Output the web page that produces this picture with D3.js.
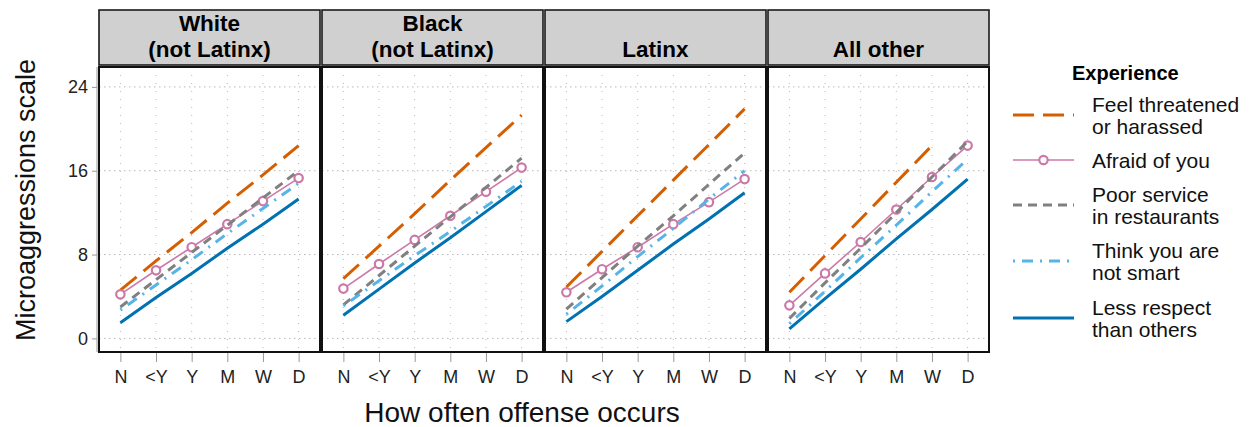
<!DOCTYPE html>
<html>
<head>
<meta charset="utf-8">
<script src="https://cdn.jsdelivr.net/npm/d3@7"></script>
<style>
  body { margin: 0; background: #fff; }
  svg { display: block; font-family: "Liberation Sans", Arial, sans-serif; }
</style>
</head>
<body>
<svg id="chart" width="1251" height="427"></svg>
<script>
var categories = [ "N", "<Y", "Y", "M", "W", "D" ];
var groups = [ [ "White", "(not Latinx)" ], [ "Black", "(not Latinx)" ], [ "Latinx" ], [ "All other" ] ];
var yTicks = [ 0, 8, 16, 24 ];
var experiences = [ "Feel threatened or harassed", "Afraid of you", "Poor service in restaurants", "Think you are not smart", "Less respect than others" ];
var legendLabels = [
    [ "Feel threatened", "or harassed" ],
    [ "Afraid of you" ],
    [ "Poor service", "in restaurants" ],
    [ "Think you are", "not smart" ],
    [ "Less respect", "than others" ]
];

// one array per experience, one row per group (White, Black, Latinx, All other)
var threatened = [
    [ 4.6, 7.4, 10.1, 12.9, 15.6, 18.4 ],
    [ 5.7, 8.8, 11.9, 15.1, 18.2, 21.3 ],
    [ 4.9, 8.3, 11.7, 15.1, 18.5, 21.9 ],
    [ 4.4, 7.9, 11.4, 14.9, 18.4, null ]
];
var afraid = [
    [ 4.2, 6.5, 8.7, 10.9, 13.1, 15.3 ],
    [ 4.75, 7.1, 9.4, 11.7, 14.0, 16.3 ],
    [ 4.4, 6.6, 8.7, 10.9, 13.0, 15.2 ],
    [ 3.15, 6.2, 9.2, 12.3, 15.4, 18.4 ]
];
var poorService = [
    [ 3.0, 5.6, 8.2, 10.8, 13.4, 16.0 ],
    [ 3.2, 6.0, 8.8, 11.6, 14.4, 17.2 ],
    [ 2.8, 5.8, 8.8, 11.7, 14.7, 17.7 ],
    [ 1.9, 5.3, 8.6, 12.0, 15.4, 18.8 ]
];
var notSmart = [
    [ 2.7, 5.1, 7.5, 10.0, 12.4, 14.8 ],
    [ 3.1, 5.5, 7.9, 10.2, 12.6, 15.0 ],
    [ 2.3, 5.0, 7.8, 10.5, 13.3, 16.0 ],
    [ 1.4, 4.5, 7.7, 10.8, 14.0, 17.1 ]
];
var lessRespect = [
    [ 1.5, 3.9, 6.2, 8.6, 10.9, 13.3 ],
    [ 2.2, 4.7, 7.2, 9.6, 12.1, 14.6 ],
    [ 1.6, 4.0, 6.5, 9.0, 11.4, 13.9 ],
    [ 0.9, 3.8, 6.6, 9.5, 12.3, 15.2 ]
];

(function () {
    var svg = d3.select( "#chart" );
    var seriesData = [ threatened, afraid, poorService, notSmart, lessRespect ];

    var styles = [
        { color: "#D55E00", width: 3, dash: "21,9" },
        { color: "#CC79A7", width: 1.6, dash: null, points: true },
        { color: "#808080", width: 3, dash: "9,6" },
        { color: "#56B4E9", width: 3, dash: "2,7,11,7" },
        { color: "#0072B2", width: 3, dash: null }
    ];

    var panelLeft = 99, panelWidth = 221, panelStep = 223;
    var stripTop = 10, stripBottom = 65, panelTop = 67, panelBottom = 352;

    var x = d3.scalePoint().domain( categories ).range( [ 0, panelWidth ] ).padding( 0.6 );
    var y = d3.scaleLinear().domain( [ -1.3, 25.9 ] ).range( [ panelBottom, panelTop ] );

    // left axis (shared)
    var yAxis = svg.append( "g" )
        .attr( "transform", "translate(" + ( panelLeft - 2 ) + ",0)" )
        .call( d3.axisLeft( y ).tickValues( yTicks ).tickSize( 5 ).tickPadding( 4 ) );
    yAxis.select( ".domain" ).attr( "d", "M0," + panelTop + "V" + panelBottom ).attr( "stroke", "#999" );
    yAxis.selectAll( ".tick line" ).attr( "stroke", "#999" );
    yAxis.selectAll( ".tick text" ).attr( "font-size", 18 ).attr( "fill", "#222" )
        .attr( "font-family", "Liberation Sans, Arial, sans-serif" );

    var line = d3.line()
        .defined( function ( d ) { return d != null; } )
        .x( function ( d, i ) { return x( categories[ i ] ); } )
        .y( function ( d ) { return y( d ); } );

    groups.forEach( function ( group, gi ) {
        var left = panelLeft + gi * panelStep;
        var g = svg.append( "g" ).attr( "transform", "translate(" + left + ",0)" );

        // strip
        g.append( "rect" )
            .attr( "x", 0 ).attr( "y", stripTop )
            .attr( "width", panelWidth ).attr( "height", stripBottom - stripTop )
            .attr( "fill", "#d0d0d0" ).attr( "stroke", "#1a1a1a" ).attr( "stroke-width", 1.6 );
        var st = g.append( "text" )
            .attr( "text-anchor", "middle" )
            .attr( "font-weight", "bold" )
            .attr( "font-size", 22.5 )
            .attr( "fill", "#000" );
        group.forEach( function ( t, li ) {
            st.append( "tspan" )
                .attr( "x", panelWidth / 2 )
                .attr( "y", group.length === 1 ? 57 : 31 + li * 26 )
                .text( t );
        });

        // panel background and grid
        g.append( "rect" )
            .attr( "x", 0 ).attr( "y", panelTop )
            .attr( "width", panelWidth ).attr( "height", panelBottom - panelTop )
            .attr( "fill", "#fff" );
        g.selectAll( "line.vgrid" ).data( categories ).enter().append( "line" )
            .attr( "class", "vgrid" )
            .attr( "x1", function ( d ) { return x( d ); } )
            .attr( "x2", function ( d ) { return x( d ); } )
            .attr( "y1", panelTop ).attr( "y2", panelBottom )
            .attr( "stroke", "#b8b8b8" ).attr( "stroke-width", 1 )
            .attr( "stroke-dasharray", "1,7" );
        g.selectAll( "line.hgrid" ).data( yTicks ).enter().append( "line" )
            .attr( "class", "hgrid" )
            .attr( "x1", 0 ).attr( "x2", panelWidth )
            .attr( "y1", function ( d ) { return y( d ); } )
            .attr( "y2", function ( d ) { return y( d ); } )
            .attr( "stroke", "#b8b8b8" ).attr( "stroke-width", 1 )
            .attr( "stroke-dasharray", "1.5,3.5" );

        // series
        seriesData.forEach( function ( series, si ) {
            var s = styles[ si ];
            var vals = series[ gi ];
            g.append( "path" )
                .datum( vals )
                .attr( "d", line )
                .attr( "fill", "none" )
                .attr( "stroke", s.color )
                .attr( "stroke-width", s.width )
                .attr( "stroke-dasharray", s.dash );
            if ( s.points ) {
                g.selectAll( "circle.pt" + si ).data( vals ).enter().append( "circle" )
                    .attr( "class", "pt" + si )
                    .attr( "cx", function ( d, i ) { return x( categories[ i ] ); } )
                    .attr( "cy", function ( d ) { return y( d ); } )
                    .attr( "r", 4.2 )
                    .attr( "fill", "#fff" )
                    .attr( "stroke", s.color )
                    .attr( "stroke-width", 2.2 );
            }
        });

        // panel border
        g.append( "rect" )
            .attr( "x", 0 ).attr( "y", panelTop )
            .attr( "width", panelWidth ).attr( "height", panelBottom - panelTop )
            .attr( "fill", "none" ).attr( "stroke", "#111" ).attr( "stroke-width", 2 );

        // bottom axis
        var xAxis = g.append( "g" )
            .attr( "transform", "translate(0," + ( panelBottom + 1 ) + ")" )
            .call( d3.axisBottom( x ).tickSize( 9 ).tickPadding( 8 ) );
        xAxis.select( ".domain" ).remove();
        xAxis.selectAll( ".tick line" ).attr( "stroke", "#999" );
        xAxis.selectAll( ".tick text" ).attr( "font-size", 18 ).attr( "fill", "#222" )
            .attr( "font-family", "Liberation Sans, Arial, sans-serif" );
    });

    // axis titles
    svg.append( "text" )
        .attr( "x", 522 ).attr( "y", 422 )
        .attr( "text-anchor", "middle" )
        .attr( "font-size", 28 ).attr( "fill", "#111" )
        .text( "How often offense occurs" );
    svg.append( "text" )
        .attr( "transform", "translate(35,200) rotate(-90)" )
        .attr( "text-anchor", "middle" )
        .attr( "font-size", 27 ).attr( "fill", "#111" )
        .text( "Microaggressions scale" );

    // legend
    var legend = svg.append( "g" );
    legend.append( "text" )
        .attr( "x", 1072 ).attr( "y", 80 )
        .attr( "font-weight", "bold" ).attr( "font-size", 20 )
        .text( "Experience" );
    var keyY = [ 115, 160, 205, 261, 318 ];
    experiences.forEach( function ( name, i ) {
        var s = styles[ i ];
        var ky = keyY[ i ];
        legend.append( "line" )
            .attr( "x1", 1013 ).attr( "x2", 1074 )
            .attr( "y1", ky ).attr( "y2", ky )
            .attr( "stroke", s.color )
            .attr( "stroke-width", s.width )
            .attr( "stroke-dasharray", s.dash );
        if ( s.points ) {
            legend.append( "circle" )
                .attr( "cx", 1043.5 ).attr( "cy", ky ).attr( "r", 4.2 )
                .attr( "fill", "#fff" ).attr( "stroke", s.color ).attr( "stroke-width", 2.2 );
        }
        var lines = legendLabels[ i ];
        var t = legend.append( "text" ).attr( "font-size", 21 ).attr( "fill", "#111" );
        lines.forEach( function ( l, li ) {
            t.append( "tspan" )
                .attr( "x", 1092 )
                .attr( "y", ky + 8 - ( lines.length - 1 ) * 11 + li * 22 )
                .text( l );
        });
    });
})();
</script>
</body>
</html>
